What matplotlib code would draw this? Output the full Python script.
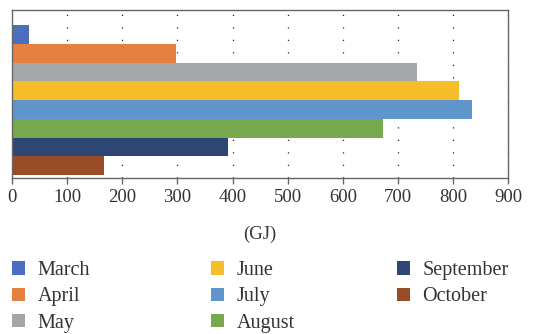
import matplotlib.pyplot as plt
from matplotlib.patches import Patch

plt.rcParams['font.family'] = ['Liberation Serif', 'DejaVu Serif']

months = ['March', 'April', 'May', 'June', 'July', 'August', 'September', 'October']
energy = [30, 298, 735, 811, 834, 673, 392, 167]
colors = ['#4a6fbe', '#e58040', '#a5a6a9', '#f5bd29', '#5e96cc', '#77a84e', '#2e4674', '#9a4c28']
ticks = [0, 100, 200, 300, 400, 500, 600, 700, 800, 900]

fig = plt.figure(figsize=(5.57, 3.34), dpi=100)
ax = fig.add_axes([0.0215, 0.467, 0.891, 0.503])

pos = list(range(len(months)))
ax.barh(pos, energy, height=1.0, color=colors, zorder=2)

ax.set_xlim(0, 900)
ax.set_ylim(7.66, -1.3)
ax.set_xticks(ticks)
ax.set_yticks([])
ax.xaxis.grid(True, color='#222222', linewidth=0.9, linestyle=(0, (1, 9)), zorder=0)
ax.set_axisbelow(True)
for s in ax.spines.values():
    s.set_color('#666666')
    s.set_linewidth(1.0)
ax.tick_params(axis='x', direction='out', length=4, width=1, color='#666666',
               labelsize=13.5, labelcolor='#333333', pad=4)
ax.set_xlabel('(GJ)', fontsize=13.5, color='#333333', labelpad=14)

handles = [Patch(facecolor=c, edgecolor='none') for c in colors]
groups = [(0, 3, 0.0), (3, 6, 0.357), (6, 8, 0.691)]
for a, b, x0 in groups:
    leg = fig.legend(handles[a:b], months[a:b], loc='upper left',
                     bbox_to_anchor=(x0 + 0.0215, 0.218), frameon=False,
                     borderpad=0, borderaxespad=0, fontsize=14.5,
                     handlelength=0.65, handleheight=0.65, handletextpad=0.62,
                     labelspacing=0.36, labelcolor='#333333')

fig.savefig('out.png', dpi=100)
